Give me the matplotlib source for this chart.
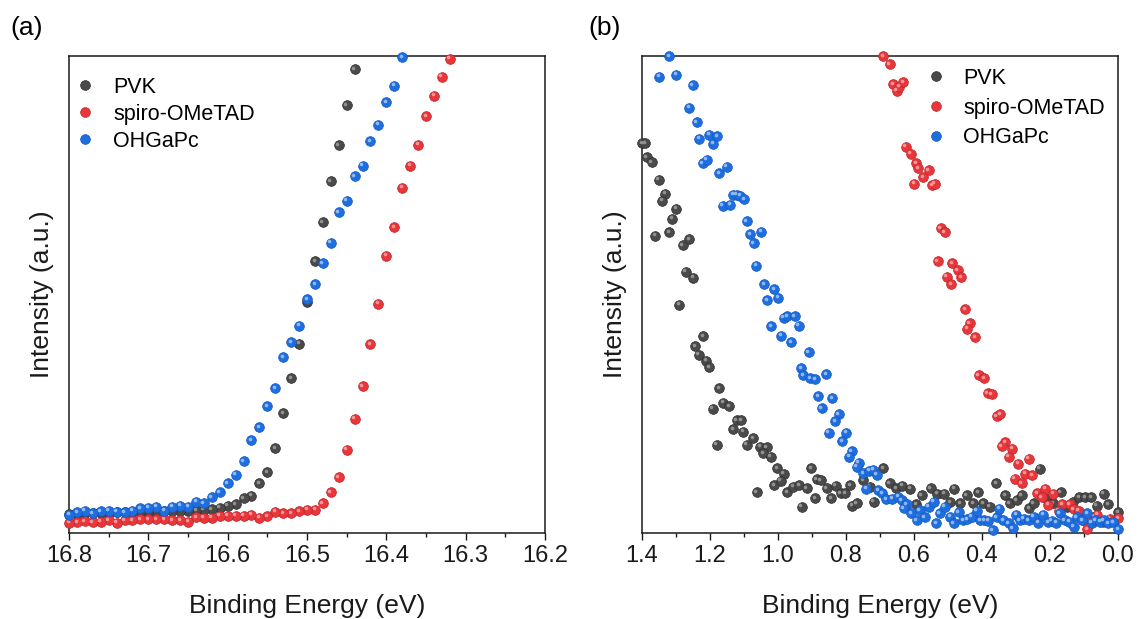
import matplotlib
matplotlib.use("Agg")
import matplotlib.pyplot as plt
from matplotlib.transforms import offset_copy
from matplotlib.ticker import MultipleLocator, FormatStrFormatter

plt.rcParams['font.family'] = ['Liberation Sans', 'DejaVu Sans']

# ---------------- Panel (a) data ----------------
a_pvk_E = [16.44, 16.45, 16.46, 16.47, 16.48, 16.49, 16.50, 16.51, 16.52, 16.53,
           16.54, 16.55, 16.56, 16.57, 16.58, 16.59, 16.60, 16.61, 16.62, 16.63,
           16.64, 16.65, 16.66, 16.67, 16.68, 16.69, 16.70, 16.71, 16.72, 16.73,
           16.74, 16.75, 16.76, 16.77, 16.78, 16.79, 16.80]
a_pvk_I = [97.2, 89.7, 81.3, 73.8, 65.1, 57.0, 48.4, 39.7, 32.4, 25.1,
           17.8, 12.8, 10.4, 7.8, 7.3, 6.0, 5.7, 5.3, 5.0, 4.9,
           4.8, 4.7, 4.7, 4.6, 4.6, 4.5, 4.5, 4.4, 4.4, 4.3,
           4.3, 4.2, 4.2, 4.1, 4.1, 4.0, 4.0]

a_spiro_E = [16.32, 16.33, 16.34, 16.35, 16.36, 16.37, 16.38, 16.39, 16.40, 16.41,
             16.42, 16.43, 16.44, 16.45, 16.46, 16.47, 16.48, 16.49, 16.50, 16.51,
             16.52, 16.53, 16.54, 16.55, 16.56, 16.57, 16.58, 16.59, 16.60, 16.61,
             16.62, 16.63, 16.64, 16.65, 16.66, 16.67, 16.68, 16.69, 16.70, 16.71,
             16.72, 16.73, 16.74, 16.75, 16.76, 16.77, 16.78, 16.79, 16.80]
a_spiro_I = [99.4, 95.7, 91.7, 87.4, 81.4, 77.0, 72.4, 64.1, 58.1, 48.1,
             39.6, 30.8, 24.0, 17.5, 11.7, 8.5, 6.2, 4.9, 4.9, 4.6,
             4.2, 4.2, 4.5, 3.5, 3.2, 3.8, 3.6, 3.6, 3.6, 3.6,
             3.2, 3.2, 3.3, 2.4, 2.7, 2.7, 2.9, 2.9, 2.9, 2.9,
             2.7, 2.7, 2.2, 2.7, 2.4, 2.3, 2.5, 2.3, 2.2]

a_ohgapc_E = [16.38, 16.39, 16.40, 16.41, 16.42, 16.43, 16.44, 16.45, 16.46, 16.47,
              16.48, 16.49, 16.50, 16.51, 16.52, 16.53, 16.54, 16.55, 16.56, 16.57,
              16.58, 16.59, 16.60, 16.61, 16.62, 16.63, 16.64, 16.65, 16.66, 16.67,
              16.68, 16.69, 16.70, 16.71, 16.72, 16.73, 16.74, 16.75, 16.76, 16.77,
              16.78, 16.79, 16.80]
a_ohgapc_I = [99.7, 93.8, 90.3, 85.6, 82.2, 77.0, 74.8, 69.7, 67.2, 60.9,
              56.5, 52.1, 49.0, 43.5, 40.0, 36.9, 30.3, 26.6, 22.2, 19.5,
              15.1, 12.2, 10.4, 8.6, 7.5, 6.2, 6.6, 5.5, 5.7, 5.5,
              4.7, 5.5, 5.3, 5.2, 4.7, 4.4, 4.5, 4.7, 4.6, 4.2,
              4.7, 4.3, 3.8]

# ---------------- Panel (b) data ----------------
b_pvk_E = [1.400, 1.391, 1.386, 1.372, 1.351, 1.331, 1.341, 1.300, 1.312, 1.361,
           1.320, 1.280, 1.261, 1.271, 1.249, 1.290, 1.220, 1.243, 1.233, 1.212,
           1.202, 1.173, 1.192, 1.161, 1.143, 1.180, 1.122, 1.108, 1.131, 1.102,
           1.092, 1.073, 1.053, 1.033, 1.043, 1.022, 1.063, 1.002, 0.983, 1.012,
           0.992, 0.973, 0.955, 0.937, 0.930, 0.916, 0.902, 0.886, 0.875, 0.890,
           0.857, 0.843, 0.830, 0.816, 0.802, 0.788, 0.781, 0.769, 0.749, 0.730,
           0.718, 0.690, 0.671, 0.653, 0.634, 0.612, 0.594, 0.577, 0.551, 0.532,
           0.512, 0.481, 0.494, 0.465, 0.445, 0.426, 0.412, 0.396, 0.377, 0.359,
           0.332, 0.318, 0.298, 0.283, 0.261, 0.248, 0.230, 0.210, 0.191, 0.169,
           0.151, 0.132, 0.114, 0.096, 0.078, 0.063, 0.042, 0.028, 0.000]
b_pvk_I = [81.7, 81.7, 78.8, 77.8, 74.1, 71.1, 69.7, 68.0, 65.9, 62.3,
           63.0, 60.4, 61.6, 54.8, 53.5, 47.9, 41.2, 39.2, 37.4, 36.1,
           34.7, 30.4, 26.1, 27.3, 26.6, 18.5, 23.7, 23.6, 21.7, 21.2,
           18.5, 19.9, 18.1, 18.0, 16.7, 16.0, 8.6, 13.6, 12.4, 10.0,
           11.0, 8.6, 9.7, 10.0, 5.5, 9.4, 13.6, 11.3, 11.1, 7.3,
           9.4, 7.3, 9.9, 8.3, 8.3, 10.0, 5.7, 6.2, 11.1, 9.7,
           6.6, 13.6, 10.4, 9.4, 9.9, 9.3, 6.1, 7.9, 9.4, 8.2,
           8.2, 9.3, 6.4, 6.2, 7.9, 6.2, 8.5, 6.2, 5.5, 10.4,
           7.9, 6.2, 6.9, 7.9, 5.2, 6.2, 13.5, 7.2, 6.2, 8.5,
           5.5, 6.5, 7.5, 7.5, 7.5, 5.7, 8.2, 6.1, 4.4]

b_spiro_E = [0.690, 0.671, 0.661, 0.651, 0.643, 0.632, 0.624, 0.610, 0.594, 0.587,
             0.573, 0.557, 0.600, 0.547, 0.539, 0.522, 0.510, 0.530, 0.487, 0.471,
             0.504, 0.491, 0.461, 0.449, 0.436, 0.444, 0.420, 0.410, 0.393, 0.383,
             0.371, 0.357, 0.347, 0.332, 0.342, 0.312, 0.322, 0.294, 0.263, 0.273,
             0.253, 0.304, 0.283, 0.238, 0.214, 0.224, 0.191, 0.206, 0.165, 0.142,
             0.175, 0.130, 0.116, 0.102, 0.091, 0.073, 0.061, 0.044, 0.024, 0.000]
b_spiro_I = [100.0, 98.3, 94.1, 92.7, 93.6, 94.5, 81.0, 79.5, 77.5, 76.5,
             74.6, 76.0, 73.2, 72.9, 73.2, 63.9, 63.1, 57.0, 56.5, 55.1,
             53.7, 52.2, 53.6, 46.9, 44.0, 42.8, 41.0, 33.1, 32.4, 29.3,
             29.1, 24.5, 24.9, 19.1, 18.2, 17.7, 16.0, 14.5, 15.6, 12.4,
             12.1, 11.4, 10.4, 8.3, 9.3, 7.5, 8.2, 5.9, 6.1, 6.1,
             4.7, 5.0, 4.7, 2.7, 0.8, 3.4, 3.8, 2.3, 3.0, 3.1]

b_ohgapc_E = [1.320, 1.349, 1.300, 1.251, 1.261, 1.239, 1.231, 1.202, 1.190, 1.179,
              1.222, 1.210, 1.173, 1.151, 1.163, 1.141, 1.131, 1.122, 1.112, 1.100,
              1.092, 1.082, 1.071, 1.049, 1.065, 1.041, 1.012, 1.032, 1.000, 1.020,
              0.983, 0.973, 0.951, 0.939, 0.990, 0.961, 0.910, 0.932, 0.926, 0.906,
              0.890, 0.859, 0.881, 0.871, 0.841, 0.822, 0.832, 0.851, 0.800, 0.812,
              0.783, 0.790, 0.763, 0.769, 0.749, 0.732, 0.720, 0.710, 0.741, 0.706,
              0.694, 0.681, 0.665, 0.647, 0.636, 0.622, 0.630, 0.608, 0.592, 0.583,
              0.569, 0.557, 0.542, 0.534, 0.524, 0.510, 0.494, 0.483, 0.469, 0.455,
              0.444, 0.430, 0.416, 0.406, 0.393, 0.381, 0.369, 0.357, 0.349, 0.338,
              0.322, 0.310, 0.300, 0.289, 0.277, 0.263, 0.248, 0.234, 0.220, 0.206,
              0.195, 0.181, 0.171, 0.157, 0.144, 0.130, 0.122, 0.106, 0.091, 0.077,
              0.067, 0.053, 0.042, 0.028, 0.014, 0.000]
b_ohgapc_I = [99.9, 95.7, 96.1, 93.9, 89.2, 86.1, 82.7, 83.5, 81.6, 83.2,
              77.5, 78.3, 75.4, 76.8, 68.6, 68.8, 70.9, 70.9, 70.7, 70.0,
              65.4, 62.7, 60.7, 63.2, 56.0, 52.1, 51.1, 48.8, 49.3, 43.3,
              45.1, 45.5, 45.5, 43.5, 41.4, 40.0, 37.9, 34.6, 33.1, 32.4,
              32.2, 33.3, 28.7, 26.2, 28.2, 24.9, 23.4, 21.0, 21.0, 19.2,
              17.1, 16.0, 14.7, 13.9, 12.5, 13.1, 13.3, 12.2, 9.3, 9.0,
              8.3, 7.1, 7.2, 7.6, 6.9, 6.1, 5.2, 4.1, 2.7, 4.8,
              3.3, 5.5, 6.6, 2.0, 4.1, 5.5, 3.4, 2.0, 4.3, 2.7,
              2.9, 3.4, 4.7, 2.7, 2.7, 2.6, 0.6, 3.3, 5.1, 2.7,
              2.0, 1.0, 3.8, 2.7, 3.0, 2.7, 3.4, 2.2, 3.8, 2.3,
              2.6, 2.2, 4.1, 2.7, 2.4, 1.3, 3.3, 2.7, 4.1, 2.2,
              2.7, 2.4, 2.7, 2.0, 2.3, 0.8]

labels = ["PVK", "spiro-OMeTAD", "OHGaPc"]
colors = ["#4a4a4a", "#e8363b", "#1f6ee0"]
edges = ["#2e2e2e", "#c02228", "#1258c0"]
highlights = ["#9a9a9a", "#f7a0a2", "#9cc2f5"]

fig = plt.figure(figsize=(11.43, 6.19), dpi=100)
axA = fig.add_axes([69 / 1143, 86 / 619, 476 / 1143, 477 / 619])
axB = fig.add_axes([642 / 1143, 86 / 619, 476 / 1143, 477 / 619])


def balls(ax, x, y, i, z):
    h, = ax.plot(x, y, 'o', ms=7.0, mfc=colors[i], mec=edges[i], mew=0.5,
                 ls='none', clip_on=False, zorder=z, label=labels[i])
    tr = offset_copy(ax.transData, fig=fig, x=-1.0, y=1.0, units='points')
    ax.plot(x, y, 'o', ms=2.6, mfc=highlights[i], mew=0, alpha=0.9, ls='none',
            transform=tr, clip_on=False, zorder=z + 0.1)
    return h


def style(ax, xlim, major, minor):
    ax.set_xlim(*xlim)
    ax.set_ylim(0, 100)
    ax.xaxis.set_major_locator(MultipleLocator(major))
    ax.xaxis.set_minor_locator(MultipleLocator(minor))
    ax.xaxis.set_major_formatter(FormatStrFormatter('%.1f'))
    ax.tick_params(axis='x', which='major', direction='out', length=5, width=1,
                   labelsize=17, pad=4, colors='#1a1a1a')
    ax.tick_params(axis='x', which='minor', direction='out', length=3, width=1,
                   colors='#1a1a1a')
    ax.tick_params(axis='y', which='both', left=False, labelleft=False)
    for s in ax.spines.values():
        s.set_linewidth(1.1)
        s.set_color('#1a1a1a')
    ax.set_xlabel('Binding Energy (eV)', fontsize=19, labelpad=19, color='#1a1a1a')
    ax.set_ylabel('Intensity (a.u.)', fontsize=19, labelpad=11, color='#1a1a1a')


hA = [balls(axA, a_pvk_E, a_pvk_I, 0, 3),
      balls(axA, a_spiro_E, a_spiro_I, 1, 4),
      balls(axA, a_ohgapc_E, a_ohgapc_I, 2, 5)]
style(axA, (16.8, 16.2), 0.1, 0.05)
axA.legend(handles=hA, loc='upper left', bbox_to_anchor=(0.012, 0.956),
           frameon=False, fontsize=15.5, handlelength=1.0, handletextpad=0.8,
           labelspacing=0.27, borderpad=0, borderaxespad=0)

hB = [balls(axB, b_pvk_E, b_pvk_I, 0, 3),
      balls(axB, b_spiro_E, b_spiro_I, 1, 4),
      balls(axB, b_ohgapc_E, b_ohgapc_I, 2, 5)]
style(axB, (1.4, 0.0), 0.2, 0.1)
axB.legend(handles=hB, loc='upper left', bbox_to_anchor=(0.594, 0.975),
           frameon=False, fontsize=15.5, handlelength=1.0, handletextpad=0.8,
           labelspacing=0.4, borderpad=0, borderaxespad=0)

fig.text(10 / 1143, 1 - 28 / 619, '(a)', fontsize=19, va='center', ha='left')
fig.text(588 / 1143, 1 - 28 / 619, '(b)', fontsize=19, va='center', ha='left')

fig.savefig('out.png', dpi=100)
